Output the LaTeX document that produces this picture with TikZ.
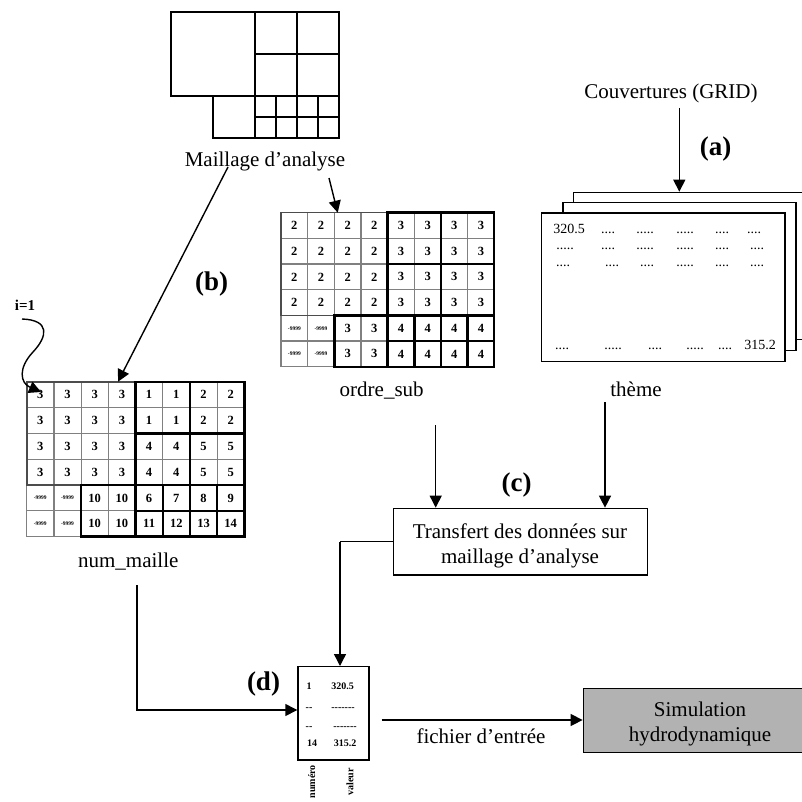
\documentclass[tikz,border=0pt]{standalone}
\usepackage{fontspec}
\setmainfont{Liberation Serif}
\usetikzlibrary{arrows.meta}
\newcommand\dfour{....}
\newcommand\dfive{.....}
\begin{document}
\begin{tikzpicture}[x=1pt,y=-1pt,
  conn/.style={line width=1.4pt,-{Triangle[length=12pt,width=12pt]}},
  plainln/.style={line width=1.4pt},
  lbl/.style={font=\fontsize{21}{25}\selectfont,inner sep=0pt,anchor=base},
  big/.style={font=\fontsize{27}{30}\selectfont\bfseries,inner sep=0pt,anchor=base},
  cellv/.style={font=\fontsize{12.5}{13}\selectfont\bfseries,inner sep=0pt},
  nodat/.style={font=\fontsize{5.5}{6}\selectfont\bfseries,inner sep=0pt},
  sheettxt/.style={font=\fontsize{14}{16}\selectfont,inner sep=0pt,anchor=base},
  boxtxt/.style={font=\fontsize{10}{12}\selectfont\bfseries,inner sep=0pt,anchor=base},
  gline/.style={gray,line width=1.2pt},
  blk/.style={black,line width=2.4pt},
  dkb/.style={black!70,line width=1.6pt},
  sheet/.style={draw,fill=white,line width=1.4pt,anchor=north west,inner sep=0pt}]
\useasboundingbox (0,0) rectangle (802,802);
\clip (0,0) rectangle (802,802);

% ---------- Maillage d'analyse ----------
\begin{scope}[line width=2pt]
  \draw (171,12) rectangle (255,96);
  \draw (255,12) rectangle (339,96);
  \draw (297,12) -- (297,96) (255,54) -- (339,54);
  \draw (213,96) rectangle (255,138);
  \draw (255,96) rectangle (339,138);
  \foreach \xx in {276,297,318} \draw (\xx,96) -- (\xx,138);
  \draw (255,117) -- (339,117);
\end{scope}
\node[lbl] (mail) at (265,166.7) {Maillage d’analyse};

% ---------- ordre_sub grid ----------
\begin{scope}[shift={(281,212.7)},x=26.66pt,y=-25.67pt]
  \foreach \r in {0,1,2,3}
    \foreach \c/\v in {0/2,1/2,2/2,3/2,4/3,5/3,6/3,7/3}
      \node[cellv] at (\c+0.5,\r+0.5) {\v};
  \foreach \r in {4,5}{
    \foreach \c in {0,1} \node[nodat] at (\c+0.5,\r+0.5) {-9999};
    \foreach \c/\v in {2/3,3/3,4/4,5/4,6/4,7/4}
      \node[cellv] at (\c+0.5,\r+0.5) {\v};
  }
  \foreach \i in {0,1,2,3,4,5,6,7,8} \draw[gline] (\i,0) -- (\i,6);
  \foreach \j in {0,1,2,3,4,5,6} \draw[gline] (0,\j) -- (8,\j);
  \draw[dkb] (0,0) rectangle (4,4);
  \draw[blk] (4,0) rectangle (6,2) (6,0) rectangle (8,2)
             (4,2) rectangle (6,4) (6,2) rectangle (8,4)
             (2,4) rectangle (4,6);
  \foreach \c in {4,5,6,7} \foreach \r in {4,5}
    \draw[blk] (\c,\r) rectangle (\c+1,\r+1);
\end{scope}
\node[lbl] (ordre) at (381.7,396) {ordre\_sub};

% ---------- num_maille grid ----------
\begin{scope}[shift={(26.7,381.7)},x=27.2pt,y=-25.83pt]
  \foreach \r in {0,1}
    \foreach \c/\v in {0/3,1/3,2/3,3/3,4/1,5/1,6/2,7/2}
      \node[cellv] at (\c+0.5,\r+0.5) {\v};
  \foreach \r in {2,3}
    \foreach \c/\v in {0/3,1/3,2/3,3/3,4/4,5/4,6/5,7/5}
      \node[cellv] at (\c+0.5,\r+0.5) {\v};
  \foreach \c in {0,1} \foreach \r in {4,5} \node[nodat] at (\c+0.5,\r+0.5) {-9999};
  \foreach \c/\v in {2/10,3/10,4/6,5/7,6/8,7/9}
    \node[cellv] at (\c+0.5,4.5) {\v};
  \foreach \c/\v in {2/10,3/10,4/11,5/12,6/13,7/14}
    \node[cellv] at (\c+0.5,5.5) {\v};
  \foreach \i in {0,1,2,3,4,5,6,7,8} \draw[gline] (\i,0) -- (\i,6);
  \foreach \j in {0,1,2,3,4,5,6} \draw[gline] (0,\j) -- (8,\j);
  \draw[dkb] (0,0) rectangle (4,4);
  \draw[blk] (4,0) rectangle (6,2) (6,0) rectangle (8,2)
             (4,2) rectangle (6,4) (6,2) rectangle (8,4)
             (2,4) rectangle (4,6);
  \foreach \c in {4,5,6,7} \foreach \r in {4,5}
    \draw[blk] (\c,\r) rectangle (\c+1,\r+1);
\end{scope}
\node[lbl] (num) at (128.3,567.7) {num\_maille};

% ---------- sheets (thème) ----------
\node[lbl] (cov) at (671,98.3) {Couvertures (GRID)};
\node[big] (la) at (715.5,156) {(a)};
\node[sheet,minimum width=260pt,minimum height=147.3pt] (back) at (572.7,191.7) {};
\node[sheet,minimum width=233pt,minimum height=148.3pt] (mid) at (562.3,201.7) {};
\node[sheet,minimum width=243.6pt,minimum height=148.4pt] (front) at (540.7,212.3) {};
\foreach \xx/\t in {569/320.5,608/\dfour,645/\dfive,685/\dfive,722/\dfour,754/\dfour}
  \node[sheettxt] at (\xx,233.3) {\t};
\foreach \xx/\t in {565/\dfive,608/\dfour,645/\dfive,685/\dfive,722/\dfour,757/\dfour}
  \node[sheettxt] at (\xx,249) {\t};
\foreach \xx/\t in {563/\dfour,612/\dfour,647/\dfour,685/\dfive,722/\dfour,757/\dfour}
  \node[sheettxt] at (\xx,266.7) {\t};
\foreach \xx/\t in {562/\dfour,613/\dfive,655/\dfour,695/\dfive,725/\dfour,760/315.2}
  \node[sheettxt] at (\xx,349) {\t};
\node[lbl] (theme) at (636,396) {thème};

\coordinate (covs) at (679.3,108);
\draw[conn] (covs) -- (covs |- back.north);

% ---------- (b) and i=1 ----------
\node[big] (lb) at (211.7,290) {(b)};
\node[font=\fontsize{15}{16}\selectfont\bfseries,inner sep=0pt,anchor=base] (ione) at (25,310) {i=1};
\coordinate (mailA) at (228,167);
\coordinate (numtop) at (118,381.7);
\draw[conn] (mailA) -- (numtop);
\coordinate (mailB) at (329,178);
\coordinate (ordtop) at (337.7,212.7);
\draw[conn] (mailB) -- (ordtop);
\coordinate (ione0) at (22,319);
\coordinate (cell1) at (41,392);
\draw[conn] (ione0) .. controls (50,320) and (48,336) .. (33,352)
                   .. controls (18,368) and (20,383) .. (cell1);

% ---------- Transfert ----------
\node[draw,line width=1.4pt,minimum width=254pt,minimum height=66.7pt,inner sep=0pt] (tr) at (520.3,541.7) {};
\node[lbl] (tr1) at (520,538.3) {Transfert des données sur};
\node[lbl] (tr2) at (520,563.3) {maillage d’analyse};
\node[big] (lc) at (516.7,491.7) {(c)};
\coordinate (ordB) at (435.7,425);
\coordinate (themeB) at (605,402);
\draw[conn] (ordB) -- (ordB |- tr.north);
\draw[conn] (themeB) -- (themeB |- tr.north);

% ---------- fichier (d) ----------
\node[draw,line width=1.4pt,anchor=north west,minimum width=71pt,minimum height=93.3pt,inner sep=0pt] (fb) at (297.3,666) {};
\node[boxtxt] at (309,689.3) {1};
\node[boxtxt] at (342.7,689.3) {320.5};
\node[boxtxt] at (309,710.7) {-{}-};
\node[boxtxt] at (343,710.7) {-{}-{}-{}-{}-{}-{}-};
\node[boxtxt] at (309,729.3) {-{}-};
\node[boxtxt] at (345,729.3) {-{}-{}-{}-{}-{}-{}-};
\node[boxtxt] at (312,746.7) {14};
\node[boxtxt] at (345,746.7) {315.2};
\node[font=\fontsize{10}{12}\selectfont\bfseries,inner sep=0pt,rotate=90,anchor=east] (numero) at (311.7,765) {numéro};
\node[font=\fontsize{10}{12}\selectfont\bfseries,inner sep=0pt,rotate=90,anchor=east] (valeur) at (350,768) {valeur};
\node[big] (ld) at (263.5,690) {(d)};

\coordinate (trL) at (340,541.7);
\draw[plainln] (tr.west |- trL) -- (trL);
\draw[conn] (trL) -- (trL |- fb.north);
\coordinate (numB) at (137,585);
\coordinate (numC) at (137,710);
\draw[conn] (numB) -- (numC) -- (fb.west |- numC);

% ---------- Simulation ----------
\node[draw,fill=black!30,line width=1.4pt,minimum width=234pt,minimum height=64.4pt,inner sep=0pt] (sim) at (700.3,720.5) {};
\node[lbl] (sim1) at (700,716.7) {Simulation};
\node[lbl] (sim2) at (700,741.7) {hydrodynamique};
\coordinate (fA) at (381.7,720);
\draw[conn] (fA) -- (sim.west |- fA);
\node[lbl] (fich) at (481,743.3) {fichier d’entrée};
\end{tikzpicture}
\end{document}
